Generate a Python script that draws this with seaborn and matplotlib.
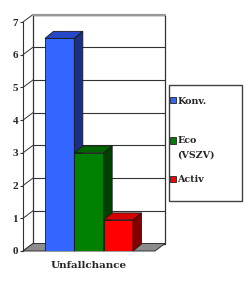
import numpy as np
import pandas as pd
import matplotlib
matplotlib.use("Agg")
import matplotlib.pyplot as plt
import seaborn as sns
from matplotlib.patches import Polygon, Patch, Rectangle
from matplotlib.lines import Line2D

categories = ["Unfallchance"]
series = ["Konv.", "Eco\n(VSZV)", "Activ"]
values = [6.5, 3.0, 0.95]
yticks = [0, 1, 2, 3, 4, 5, 6, 7]
front_colors = ["#3366FF", "#008000", "#FF0000"]
top_colors = ["#2648C8", "#006400", "#D80000"]
side_colors = ["#1A2F85", "#004000", "#800000"]

df = pd.DataFrame({"cat": categories * len(series), "series": series, "value": values})

sns.set_style("white")
plt.rcParams["font.family"] = ["DejaVu Serif", "Liberation Serif"]
plt.rcParams["font.weight"] = "bold"

W, H = 248, 289
L, R, T, B = 23, 155, 22, 251
fig = plt.figure(figsize=(W / 100, H / 100), dpi=100)
fig.patch.set_facecolor("white")
ax = fig.add_axes([L / W, 1 - B / H, (R - L) / W, (B - T) / H])

sns.barplot(data=df, x="cat", y="value", hue="series", hue_order=series,
            palette=front_colors, width=0.667, dodge=True, saturation=1,
            edgecolor="#1a1a1a", linewidth=0.6, legend=False, errorbar=None, ax=ax)
bars = [p for p in ax.patches if isinstance(p, Rectangle)]
ax.set_xlim(-0.5, 0.5)
ax.set_ylim(0, 7)
ax.patch.set_visible(False)

xpx = (R - L) / 1.0
ypx = (B - T) / 7.0
dxw, dyw = 10 / xpx, 7.5 / ypx
dxb, dyb = 8.5 / xpx, 7 / ypx

edge = "#333333"
# back wall
ax.add_patch(Polygon([(-0.5 + dxw, dyw), (0.5 + dxw, dyw), (0.5 + dxw, 7 + dyw), (-0.5 + dxw, 7 + dyw)],
                     closed=True, facecolor="white", edgecolor=edge, lw=0.9, clip_on=False, zorder=0.5))
for v in yticks:
    ax.add_line(Line2D([-0.5 + dxw, 0.5 + dxw], [v + dyw, v + dyw], color=edge, lw=0.8, clip_on=False, zorder=0.6))
    ax.add_line(Line2D([-0.5, -0.5 + dxw], [v, v + dyw], color=edge, lw=0.7, clip_on=False, zorder=0.6))
ax.add_line(Line2D([-0.5 + dxw, 0.5 + dxw], [7 + dyw, 7 + dyw], color="#999999", lw=1.6, clip_on=False, zorder=0.7))
# floor
ax.add_patch(Polygon([(-0.5, 0), (0.5, 0), (0.5 + dxw, dyw), (-0.5 + dxw, dyw)],
                     closed=True, facecolor="#8c8c8c", edgecolor=edge, lw=0.7, clip_on=False, zorder=1))

for i, p in enumerate(bars):
    x0, w, h = p.get_x(), p.get_width(), p.get_height()
    z = 3 + i
    p.set_zorder(z)
    ax.add_patch(Polygon([(x0, h), (x0 + w, h), (x0 + w + dxb, h + dyb), (x0 + dxb, h + dyb)],
                         closed=True, facecolor=top_colors[i], edgecolor="#1a1a1a", lw=0.6,
                         clip_on=False, zorder=z))
    ax.add_patch(Polygon([(x0 + w, 0), (x0 + w + dxb, dyb), (x0 + w + dxb, h + dyb), (x0 + w, h)],
                         closed=True, facecolor=side_colors[i], edgecolor="#1a1a1a", lw=0.6,
                         clip_on=False, zorder=z))

for s in ["top", "right", "bottom"]:
    ax.spines[s].set_visible(False)
ax.spines["left"].set_color(edge)
ax.spines["left"].set_linewidth(0.8)
ax.set_yticks(yticks)
ax.set_yticklabels([str(v) for v in yticks], fontsize=8, fontweight="bold", family="Liberation Serif")
ax.tick_params(axis="y", left=True, length=2, width=0.8, color=edge, pad=1.5)
ax.tick_params(axis="x", length=0, pad=7)
ax.set_xticks([0])
ax.set_xticklabels(categories, fontsize=7.5, fontweight="bold", family="DejaVu Serif")
ax.set_xlabel("")
ax.set_ylabel("")

# legend frame
fig.add_artist(Rectangle((168.5 / W, 1 - 201 / H), (241.7 - 168.5) / W, (201 - 85) / H,
                         transform=fig.transFigure, fill=True, facecolor="white",
                         edgecolor="#404040", lw=1.0, zorder=1))
handles = [Patch(facecolor=c, edgecolor="#222222", lw=0.6) for c in front_colors]
leg_labels = [series[0], "\n" + series[1], series[2]]
leg = fig.legend(handles, leg_labels, loc="upper left",
                 bbox_to_anchor=(170 / W, 1 - 96.5 / H),
                 frameon=False, handlelength=0.65, handleheight=0.65, handletextpad=0.15,
                 borderaxespad=0, borderpad=0, labelspacing=1.7,
                 prop={"family": "DejaVu Serif", "weight": "bold", "size": 6.8})
leg.set_zorder(2)
for t in leg.get_texts():
    t.set_linespacing(1.75)

fig.savefig("out.png", dpi=100, facecolor="white")
